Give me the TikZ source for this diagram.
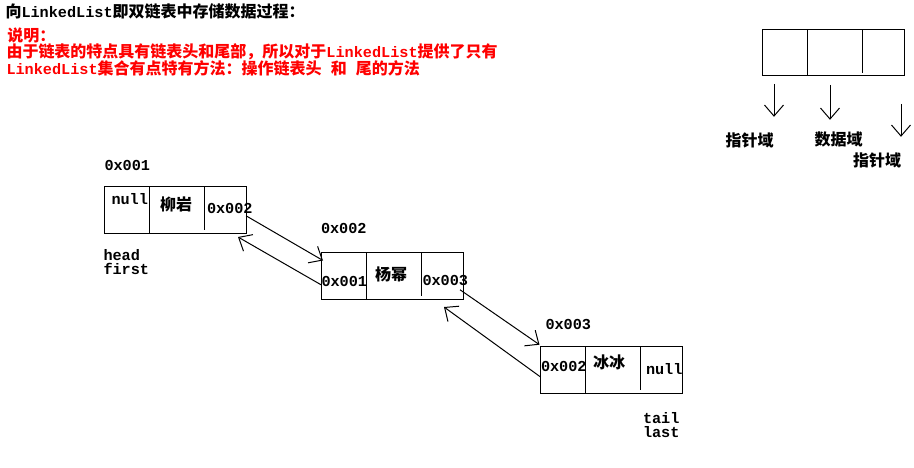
\documentclass[tikz,border=0pt]{standalone}
\usepackage{fontspec}
\setmainfont{Liberation Mono}
\newfontfamily\cjkfont{Noto Sans CJK SC}
\usetikzlibrary{arrows.meta,positioning}
\newcommand{\zh}[1]{{\cjkfont\fontsize{16}{16}\selectfont #1}}
\newcommand{\cellw}{142pt}
\newcommand{\cellh}{46.5pt}
\tikzset{
    node box/.style={draw, minimum width=\cellw, minimum height=\cellh,
        inner sep=0pt, outer sep=0pt, anchor=north west},
    lbl/.style={inner sep=0pt, font=\fontsize{15.2}{16}\selectfont\bfseries, anchor=base west},
    zhlbl/.style={inner sep=0pt, font=\bfseries},
    ptr/.style={-{Straight Barb[length=11pt,width=19pt]}},
}

\begin{document}
\begin{tikzpicture}[x=1pt,y=-1pt,line width=1pt]
    \useasboundingbox (0,0) rectangle (914,467);
    % title and remarks
    \node[lbl] (title) at (5,17.5) {\zh{向}LinkedList\zh{即双链表中存储数据过程：}};
    \node[lbl,red] (note1) at (7,41) {\zh{说明：}};
    \node[lbl,red] (note2) at (6,57.3) {\zh{由于链表的特点具有链表头和尾部，所以对于}LinkedList\zh{提供了只有}};
    \node[lbl,red] (note3) at (6,74) {LinkedList\zh{集合有点特有方法：操作链表头} \zh{和} \zh{尾的方法}};
    % the boxes
    \foreach \n/\x/\y in {b1/104/186.5, b2/321/252.5, b3/540.5/346.7, lg/762/29.3}
    {
        \node[node box] (\n) at (\x,\y) {};
        \draw ([xshift=45pt]\n.north west) -- ([xshift=45pt]\n.south west);
        \draw ([xshift=100pt]\n.north west) -- ([shift={(100pt,3pt)}]\n.south west);
    }
    % first
    \node[lbl] (a1) at (104,170) {0x001};
    \node[lbl] (b1prev) at (111,204.3) {null};
    \node[zhlbl] (b1data) at (176,204) {\zh{柳岩}};
    \node[lbl] (b1next) at (206.5,213.3) {0x002};
    \node[lbl] (head) at (103,260.5) {head};
    \node[lbl] (first) at (103,274.5) {first};
    % second
    \node[lbl] (a2) at (320.5,233.3) {0x002};
    \node[lbl] (b2prev) at (321,286.7) {0x001};
    \node[zhlbl] (b2data) at (391,274.7) {\zh{杨幂}};
    \node[lbl] (b2next) at (422,285) {0x003};
    % third
    \node[lbl] (a3) at (545,329) {0x003};
    \node[lbl] (b3prev) at (540.5,371.7) {0x002};
    \node[zhlbl] (b3data) at (609,362) {\zh{冰冰}};
    \node[lbl] (b3next) at (645.5,374) {null};
    \node[lbl] (tail) at (642.5,423.3) {tail};
    \node[lbl] (last) at (642.5,437.3) {last};
    % links
    \draw[ptr] ([yshift=-6pt]b1.east) -- ([shift={(2pt,-8pt)}]b2.north west);
    \draw[ptr] ([yshift=-9pt]b2.west) -- ([shift={(-8pt,-4pt)}]b1.south east);
    \draw[ptr] ([shift={(-3pt,-14pt)}]b2.east) -- ([shift={(-1pt,2pt)}]b3.north west);
    \draw[ptr] ([yshift=-7pt]b3.west) -- ([shift={(-19pt,-8pt)}]b2.south east);
    % legend
    \node[zhlbl] (lgprev) at (749.5,140) {\zh{指针域}};
    \node[zhlbl] (lgdata) at (838.5,139.7) {\zh{数据域}};
    \node[zhlbl] (lgnext) at (877,160) {\zh{指针域}};
    \draw[ptr] ([shift={(12pt,-8pt)}]lg.south west) -- ++(0,33);
    \draw[ptr] ([shift={(68pt,-9pt)}]lg.south west) -- ++(0,35);
    \draw[ptr] ([shift={(139pt,-28pt)}]lg.south west) -- ++(0,33);
\end{tikzpicture}
\end{document}
